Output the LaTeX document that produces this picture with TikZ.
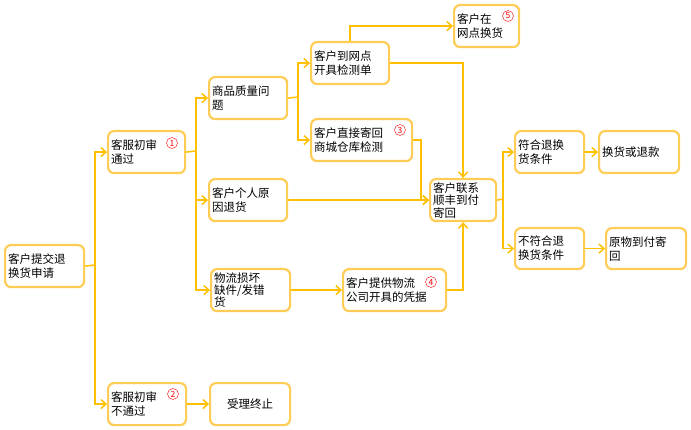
\documentclass[tikz,border=0pt]{standalone}
\usepackage{fontspec}
\setmainfont{Noto Sans CJK SC}
\usetikzlibrary{arrows.meta}
\definecolor{ln}{HTML}{FFC000}
\definecolor{bd}{HTML}{FFCC55}
\tikzset{
 bx/.style={draw=bd,line width=2.2pt,rounded corners=6pt,fill=white,align=left,font=\fontsize{11.5}{14}\selectfont,inner sep=2pt,anchor=north west},
 ar/.style={draw=ln,line width=1.5pt,-{Straight Barb[length=5pt,width=9pt]}},
 ln/.style={draw=ln,line width=1.5pt},
 num/.style={draw=red,circle,inner sep=0pt,minimum size=11pt,text=red,font=\fontsize{8.5}{8.5}\selectfont}
}
\newcommand{\bxx}[6]{\node[bx,minimum width=#4-#2 pt,minimum height=#5-#3 pt,text width=#4-#2-6 pt] (#1) at (#2,#3) {#6};}
\begin{document}
\begin{tikzpicture}[x=1pt,y=-1pt]
\useasboundingbox (0,0) rectangle (691,430);
\bxx{A}{4}{244}{83}{286}{客户提交退\\换货申请}
\bxx{B}{107}{130}{184}{172}{客服初审\\通过}
\bxx{C}{107}{382}{185}{424}{客服初审\\不通过}
\node[bx,minimum width=80pt,minimum height=42pt,align=center] (D) at (209,382) {受理终止};
\bxx{E}{208}{76}{286}{118}{商品质量问\\题}
\bxx{F}{208}{178}{286}{220}{客户个人原\\因退货}
\node[bx,minimum width=79pt,minimum height=42pt,text width=73pt,font=\fontsize{11.5}{12}\selectfont] (G) at (210,268) {物流损坏\\缺件/发错\\货};
\bxx{H}{310}{41}{388}{83}{客户到网点\\开具检测单}
\bxx{I}{310}{118}{411}{160}{客户直接寄回\\商城仓库检测}
\bxx{J}{453}{4}{518}{46}{客户在\\网点换货}
\bxx{K}{342}{268}{445}{310}{客户提供物流\\公司开具的凭据}
\node[bx,minimum width=66pt,minimum height=42pt,text width=60pt,font=\fontsize{11.5}{12.5}\selectfont] (L) at (429,178) {客户联系\\顺丰到付\\寄回};
\bxx{M}{514}{130}{583}{172}{符合退换\\货条件}
\bxx{N}{598}{130}{678}{172}{换货或退款}
\bxx{O}{514}{227}{583}{268}{不符合退\\换货条件}
\bxx{P}{605}{227}{685}{268}{原物到付寄\\回}
\node[num] at (172,143) {1};
\node[num] at (173,394) {2};
\node[num] at (400,130) {3};
\node[num] at (431,282) {4};
\node[num] at (508,16) {5};
\coordinate (t1) at (95,265);
\draw[ln] (A.east) -- (t1);
\draw[ar] (t1) |- (B.west);
\draw[ar] (t1) |- (C.west);
\draw[ar] (C.east) -- (D.west);
\coordinate (t2) at (196,151);
\draw[ln] (B.east) -- (t2);
\draw[ar] (t2) |- (E.west);
\draw[ar] (t2) |- (F.west);
\draw[ar] (t2) |- (G.west);
\coordinate (t3) at (298,97);
\draw[ln] (E.east) -- (t3);
\draw[ar] (t3) |- (H.west);
\draw[ar] (t3) |- (I.west);
\draw[ar] (H.north) |- (J.west);
\draw[ar] (H.east) -| (L.north);
\draw[ar] (I.east) -- ++(8,0) |- (L.west);
\draw[ar] (F.east) -- (L.west);
\draw[ar] (G.east) -- (K.west);
\draw[ar] (K.east) -| (L.south);
\coordinate (t4) at (503,199);
\draw[ln] (L.east) -- (t4);
\draw[ar] (t4) |- (M.west);
\draw[ar] (t4) |- (O.west);
\draw[ar] (M.east) -- (N.west);
\draw[ar] (O.east) -- (P.west);
\end{tikzpicture}
\end{document}
